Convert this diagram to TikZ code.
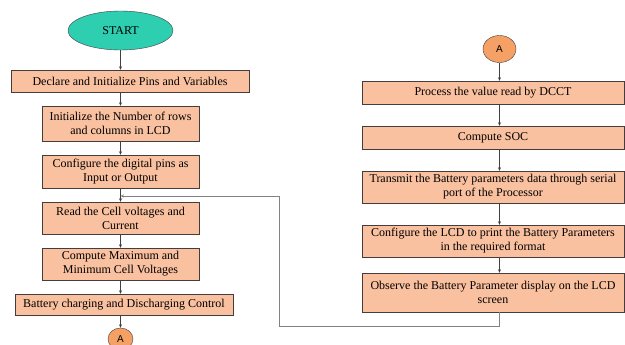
\documentclass[tikz,border=0pt]{standalone}
\usepackage{fontspec}
\setmainfont{Liberation Serif}
\newfontfamily\conlabel{Liberation Sans}
\usetikzlibrary{shapes.geometric,arrows.meta}
\definecolor{boxfill}{RGB}{250,193,160}
\definecolor{boxline}{RGB}{70,60,60}
\definecolor{startfill}{RGB}{46,206,176}
\definecolor{confill}{RGB}{245,160,100}
\definecolor{loopgray}{RGB}{130,130,130}
\tikzset{
	procbox/.style={draw=boxline, fill=boxfill, align=center, inner sep=0pt, font=\fontsize{12}{14}\selectfont},
	termnode/.style={ellipse, draw=boxline, fill=startfill, inner sep=0pt, font=\fontsize{12}{14}\selectfont},
	conn/.style={ellipse, draw=boxline, fill=confill, inner sep=0pt, font=\conlabel\fontsize{10}{12}\selectfont},
	flow/.style={-{Stealth[length=3.5pt,width=3pt]}, draw=black!75, line width=0.6pt},
	loopline/.style={-{Stealth[length=3.5pt,width=3pt]}, draw=loopgray, line width=0.7pt},
}
\begin{document}
\begin{tikzpicture}[x=1pt,y=-1pt]
	\clip (0,0) rectangle (625,345);
	\fill[white] (0,0) rectangle (625,345);

	\node[termnode, minimum width=105, minimum height=39] (start) at (120.5,30.5) {START};
	\node[procbox, minimum width=238, minimum height=22] (decl) at (130,81) {Declare and Initialize Pins and Variables};
	\node[procbox, minimum width=157, minimum height=35] (rows) at (120.5,123.5) {Initialize the Number of rows\\and columns in LCD};
	\node[procbox, minimum width=157, minimum height=33] (pins) at (120.5,171.5) {Configure the digital pins as\\Input or Output};
	\node[procbox, minimum width=157, minimum height=32] (read) at (120.5,218) {Read the Cell voltages and\\Current};
	\node[procbox, minimum width=157, minimum height=32] (maxmin) at (120.5,264) {Compute Maximum and\\Minimum Cell Voltages};
	\node[procbox, minimum width=218, minimum height=21] (charge) at (124,304.5) {Battery charging and Discharging Control};
	\node[conn, minimum width=25, minimum height=22] (conA) at (120.5,339) {A};

	\node[conn, minimum width=33, minimum height=27] (conB) at (499.5,49) {A};
	\node[procbox, minimum width=262, minimum height=23] (dcct) at (493,92.5) {Process the value read by DCCT};
	\node[procbox, minimum width=262, minimum height=23] (soc) at (493,137.5) {Compute SOC};
	\node[procbox, minimum width=262, minimum height=32] (serial) at (493,187) {Transmit the Battery parameters data through serial\\port of the Processor};
	\node[procbox, minimum width=262, minimum height=32] (lcdfmt) at (493,241) {Configure the LCD to print the Battery Parameters\\in the required format};
	\node[procbox, minimum width=262, minimum height=39] (observe) at (493,292.5) {Observe the Battery Parameter display on the LCD\\screen};

	\coordinate (join) at (120.5,196);
	\coordinate (corner) at (279,326);

	\draw[flow] (start) -- (start |- decl.north);
	\draw[flow] (decl.south -| start) -- (rows);
	\draw[flow] (rows) -- (pins);
	\draw[flow] (pins) -- (read);
	\draw[flow] (read) -- (maxmin);
	\draw[flow] (maxmin) -- (maxmin |- charge.north);
	\draw[flow] (charge.south -| start) -- (conA);

	\foreach \a/\b in {conB/dcct, dcct/soc, soc/serial, serial/lcdfmt, lcdfmt/observe}
		\draw[flow] (\a.south -| conB) -- (conB |- \b.north);

	\draw[loopline] (observe.south -| conB) |- (corner) |- (join);
\end{tikzpicture}
\end{document}
